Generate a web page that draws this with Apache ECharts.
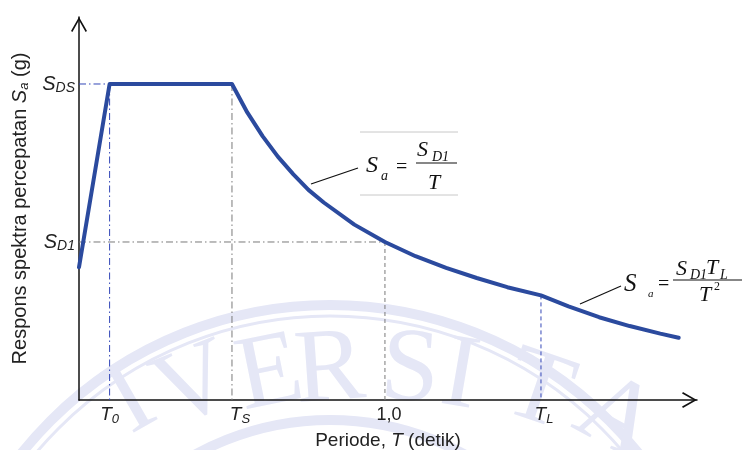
<!DOCTYPE html>
<html><head><meta charset="utf-8">
<script src="https://cdn.jsdelivr.net/npm/echarts@6/dist/echarts.min.js"></script>
<style>html,body{margin:0;padding:0;background:#fff}#c{width:744px;height:450px}</style>
</head><body><div id="c"></div>
<script>
// ---- data (S_DS normalised to 1) ----
const periodKeys   = [0.1, 0.5, 1.0, 1.51];      // T0, TS, 1,0, TL
const periodLabels = ['T0', 'TS', '1,0', 'TL'];
const accelKeys    = [0.5, 1.0];                 // SD1, SDS
const accelLabels  = ['D1', 'DS'];
const curveT  = [0, 0.1, 0.5, 0.55, 0.6, 0.65, 0.7, 0.75, 0.8, 0.9, 1.0, 1.1, 1.2, 1.3, 1.4, 1.51, 1.6, 1.7, 1.8, 1.9, 1.96];
const curveSa = [0.42, 1.0, 1.0, 0.91, 0.835, 0.77, 0.715, 0.665, 0.625, 0.555, 0.5, 0.455, 0.418, 0.386, 0.357, 0.331, 0.296, 0.262, 0.234, 0.21, 0.197];
const tlSa = 0.331;

const T0 = periodKeys[0], TS = periodKeys[1], T1 = periodKeys[2], TL = periodKeys[3];
const SD1 = accelKeys[0], SDS = accelKeys[1];

const chart = echarts.init(document.getElementById('c'));
const chevron = 'path://M0,14 L8,0 L16,14 L14.6,14.9 L8,3.3 L1.4,14.9 Z';
const sans = '"Liberation Sans", Arial, sans-serif';
const serif = '"Liberation Serif", "Times New Roman", serif';
const blue = '#3347b8', grey = '#7a7a7a';

function guide(points, color, dash) {
  return { type: 'line', data: points, symbol: 'none', silent: true, z: 1,
    lineStyle: { color: color, width: 1, type: dash } };
}
const dashDot = [7, 3, 1.5, 3];
const dashed = [4, 3];

const curve = curveT.map((t, i) => [t, curveSa[i]]);

function txt(x, y, text, size, italic, fam, extra) {
  return Object.assign({ type: 'text', x: x, y: y, z: 20, silent: true,
    style: { text: text, font: (italic ? 'italic ' : '') + size + 'px ' + (fam || serif),
      fill: '#111', align: 'left', verticalAlign: 'middle' } }, extra || {});
}
function ln(x1, y1, x2, y2, color, w) {
  return { type: 'line', z: 20, silent: true, shape: { x1, y1, x2, y2 }, style: { stroke: color, lineWidth: w } };
}

// watermark (faint university seal)
const wm = '#e5e7f6';
const wmLetters = [['I',132,402,0.52],['V',195,388,0.38],['E',270,376,0.2],['R',330,372,0.07],
  ['S',410,372,-0.07],['I',460,378,-0.17],['T',538,393,-0.33],['A',616,420,-0.5]];
const watermark = [
  { type: 'circle', z: -5, silent: true, shape: { cx: 330, cy: 700, r: 395 }, style: { fill: 'none', stroke: wm, lineWidth: 10 } },
  { type: 'circle', z: -5, silent: true, shape: { cx: 330, cy: 700, r: 384 }, style: { fill: 'none', stroke: wm, lineWidth: 3 } },
  { type: 'circle', z: -5, silent: true, shape: { cx: 330, cy: 700, r: 280 }, style: { fill: 'none', stroke: wm, lineWidth: 10 } }
].concat(wmLetters.map(l => ({ type: 'text', z: -5, silent: true, x: l[1], y: l[2], rotation: l[3],
  style: { text: l[0], font: '105px ' + serif, fill: wm, align: 'center', verticalAlign: 'middle' } })));

const formulas = [
  // S_a = S_D1 / T
  ln(360, 132, 458, 132, '#c8c8c8', 1), ln(360, 195, 458, 195, '#c8c8c8', 1),
  ln(311, 184, 358, 168, '#111', 1.2),
  txt(366, 166, 'S', 24, true), txt(381, 176, 'a', 14, true),
  txt(396, 168, '=', 20, false),
  txt(417, 150, 'S', 22, true), txt(432, 157, 'D1', 14, true),
  ln(416, 163, 457, 163, '#111', 1.2),
  txt(428, 183, 'T', 22, true),
  // S_a = S_D1 T_L / T^2
  ln(580, 304, 621, 286, '#111', 1.2),
  txt(624, 284, 'S', 25, true), txt(648, 294, 'a', 11, true),
  txt(658, 285, '=', 20, false),
  txt(676, 269, 'S', 22, true), txt(690, 275, 'D1', 14, true),
  txt(706, 268, 'T', 22, true), txt(720, 275, 'L', 14, true),
  ln(673, 280, 742, 280, '#111', 1.2),
  txt(699, 295, 'T', 22, true), txt(714, 287, '2', 12, false)
];

function xLabel(v) {
  const i = periodKeys.indexOf(v);
  const l = periodLabels[i];
  if (l === '1,0') return '{n|1,0}';
  const head = l === 'TS' ? 'ts' : (l === 'TL' ? 'tl' : 't');
  return '{' + head + '|T}{s|' + l.slice(1) + '}';
}
function yLabel(v) {
  const i = accelKeys.indexOf(v);
  return '{t|S}{s|' + accelLabels[i] + '}';
}

chart.setOption({
  animation: false,
  backgroundColor: '#fff',
  grid: { left: 79, right: 47, top: 17, bottom: 50, containLabel: false, outerBoundsMode: 'none' },
  xAxis: {
    type: 'value', min: 0, max: 2.02,
    name: 'Periode, {i|T} (detik)', nameLocation: 'middle', nameGap: 27,
    nameTextStyle: { fontFamily: sans, fontSize: 19, color: '#222',
      rich: { i: { fontFamily: sans, fontSize: 19, fontStyle: 'italic', color: '#222' } } },
    axisLine: { show: true, symbol: ['none', chevron], symbolSize: [16, 15], symbolOffset: [0, -7.5],
      lineStyle: { color: '#111', width: 1.5 } },
    axisTick: { show: false }, splitLine: { show: false },
    axisLabel: { customValues: periodKeys, formatter: xLabel, margin: 4,
      rich: {
        t: { fontFamily: sans, fontSize: 19, fontStyle: 'italic', color: '#222', lineHeight: 22, verticalAlign: 'middle' },
        ts: { fontFamily: sans, fontSize: 19, fontStyle: 'italic', color: '#222', lineHeight: 22, verticalAlign: 'middle', padding: [0, 0, 0, 16] },
        tl: { fontFamily: sans, fontSize: 19, fontStyle: 'italic', color: '#222', lineHeight: 22, verticalAlign: 'middle', padding: [0, 0, 0, 6] },
        s: { fontFamily: sans, fontSize: 13, fontStyle: 'italic', color: '#222', lineHeight: 13, verticalAlign: 'bottom' },
        n: { fontFamily: sans, fontSize: 18, color: '#222', lineHeight: 22, padding: [0, 0, 0, 8] }
      } }
  },
  yAxis: {
    type: 'value', min: 0, max: 1.212,
    name: 'Respons spektra percepatan {i|S}{s|a} (g)', nameLocation: 'middle', nameGap: 46, nameRotate: 90,
    nameTextStyle: { fontFamily: sans, fontSize: 20, color: '#222', lineHeight: 22,
      rich: {
        i: { fontFamily: sans, fontSize: 20, fontStyle: 'italic', color: '#222', lineHeight: 22 },
        s: { fontFamily: sans, fontSize: 13, fontStyle: 'italic', color: '#222', lineHeight: 12, verticalAlign: 'bottom' }
      } },
    axisLine: { show: true, symbol: ['none', chevron], symbolSize: [16, 15], symbolOffset: [0, -7.5],
      lineStyle: { color: '#111', width: 1.5 } },
    axisTick: { show: false }, splitLine: { show: false },
    axisLabel: { customValues: accelKeys, formatter: yLabel, margin: 4,
      rich: {
        t: { fontFamily: sans, fontSize: 20, fontStyle: 'italic', color: '#222', lineHeight: 22 },
        s: { fontFamily: sans, fontSize: 14, fontStyle: 'italic', color: '#222', lineHeight: 14, verticalAlign: 'bottom' }
      } }
  },
  graphic: { elements: watermark.concat(formulas) },
  series: [
    guide([[0, SDS], [T0, SDS]], blue, dashDot),
    guide([[T0, SDS], [T0, 0]], blue, dashDot),
    guide([[TS, SDS], [TS, 0]], grey, dashDot),
    guide([[0, SD1], [T1, SD1]], grey, dashDot),
    guide([[T1, SD1], [T1, 0]], grey, dashed),
    guide([[TL, tlSa], [TL, 0]], blue, dashed),
    { type: 'line', data: curve, symbol: 'none', z: 5, silent: true,
      lineStyle: { color: '#2b4a9e', width: 4, cap: 'round', join: 'round' } }
  ]
});
</script></body></html>
